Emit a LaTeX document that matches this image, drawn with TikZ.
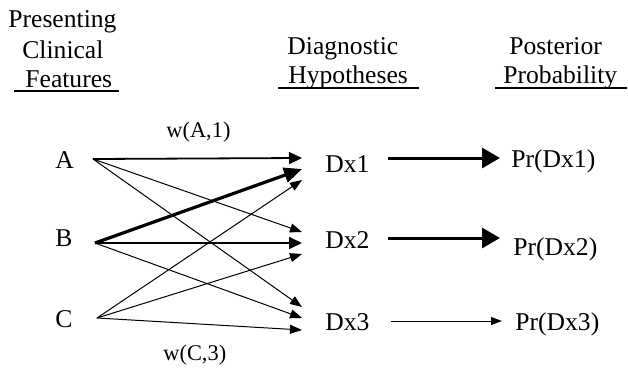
\documentclass[tikz,border=0pt]{standalone}
\usepackage{fontspec}
\setmainfont{Liberation Serif}
\usetikzlibrary{arrows.meta}
\begin{document}
\begin{tikzpicture}[x=0.5pt,y=-0.5pt,
  txt/.style={anchor=base west,inner sep=0pt,font=\fontsize{12.8}{15}\selectfont},
  wlab/.style={anchor=base west,inner sep=0pt,font=\fontsize{11.2}{13}\selectfont},
  uline/.style={line width=1pt},
  thinarr/.style={line width=0.5pt,-{Triangle[length=6pt,width=4.5pt]}},
  medarr/.style={line width=0.9pt,-{Triangle[length=6.5pt,width=6pt]}},
  thickarr/.style={line width=1.6pt,-{Triangle[length=9pt,width=7.5pt]}},
  bigarr/.style={line width=1.5pt,-{Triangle[length=9pt,width=10pt]}},
  smallarr/.style={line width=0.5pt,-{Triangle[length=5.5pt,width=4pt]}}]
\useasboundingbox (0,0) rectangle (628,370);
% headers
\node[txt] (h1) at (8,27) {Presenting};
\node[txt] (h2) at (22,58) {Clinical};
\node[txt] (h3) at (25,87) {Features};
\draw[uline] (14,91) -- (119,91);
\node[txt] (h4) at (287,54) {Diagnostic};
\node[txt] (h5) at (288,83) {Hypotheses};
\draw[uline] (278,88) -- (419,88);
\node[txt] (h6) at (509,54) {Posterior};
\node[txt] (h7) at (503,83) {Probability};
\draw[uline] (495,88) -- (627,88);
% features
\node[txt] (A) at (55,168) {A};
\node[txt] (B) at (55,246) {B};
\node[txt] (C) at (55,327) {C};
% hypotheses
\node[txt] (D1) at (325,172) {Dx1};
\node[txt] (D2) at (325,248) {Dx2};
\node[txt] (D3) at (325,330) {Dx3};
% posteriors
\node[txt] (P1) at (511,167) {Pr(Dx1)};
\node[txt] (P2) at (513,255) {Pr(Dx2)};
\node[txt] (P3) at (515,330) {Pr(Dx3)};
% weight labels
\node[wlab] (wA) at (166,137) {w(A,1)};
\node[wlab] (wC) at (163,360) {w(C,3)};
% source points
\coordinate (sA) at (93,159);
\coordinate (sB) at (95,243);
\coordinate (sC) at (97,318);
% entry points
\coordinate (d1a) at (302,158);
\coordinate (d1b) at (302,169);
\coordinate (d1c) at (302,180);
\coordinate (d2a) at (302,232);
\coordinate (d2b) at (302,243);
\coordinate (d2c) at (302,254);
\coordinate (d3a) at (302,307);
\coordinate (d3b) at (302,318);
\coordinate (d3c) at (302,330);
% connectors
\draw[medarr] (sA) -- (d1a);
\draw[thinarr] (sA) -- (d2a);
\draw[thinarr] (sA) -- (d3a);
\draw[thickarr] (sB) -- (d1b);
\draw[medarr] (sB) -- (d2b);
\draw[thinarr] (sB) -- (d3b);
\draw[thinarr] (sC) -- (d1c);
\draw[thinarr] (sC) -- (d2c);
\draw[thinarr] (sC) -- (d3c);
% right arrows
\coordinate (r1s) at (388,158);
\coordinate (r1e) at (500,158);
\coordinate (r2s) at (388,238);
\coordinate (r2e) at (500,238);
\coordinate (r3s) at (391,321);
\coordinate (r3e) at (502,321);
\draw[bigarr] (r1s) -- (r1e);
\draw[bigarr] (r2s) -- (r2e);
\draw[smallarr] (r3s) -- (r3e);
\end{tikzpicture}
\end{document}
